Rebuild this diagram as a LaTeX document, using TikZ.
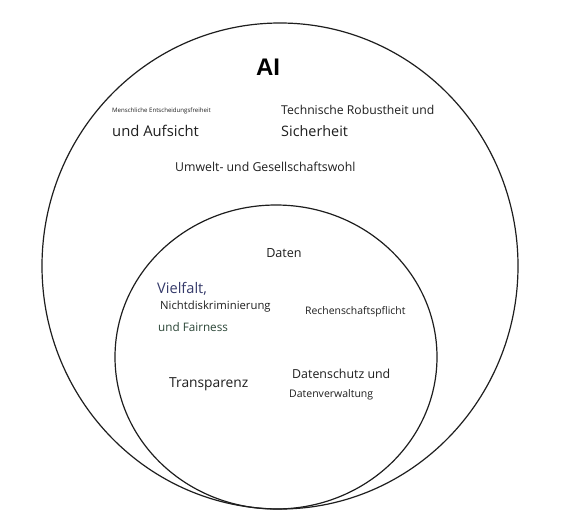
\documentclass[tikz,border=0pt]{standalone}
\usepackage{fontspec}
\setmainfont{Open Sans}
\newfontfamily\arialfont{Liberation Sans}
\definecolor{ink}{HTML}{1E1E1E}
\definecolor{txt}{HTML}{1F1F1F}
\definecolor{navy}{HTML}{353A6A}
\definecolor{dgreen}{HTML}{2B4637}
\begin{document}
\begin{tikzpicture}[x=1pt,y=-1pt,
  ring/.style={draw=ink,line width=1.2pt},
  lbl/.style={anchor=west,inner sep=0pt,text=txt},
  fs/.style={font=\fontsize{#1}{#1}\selectfont}]
\useasboundingbox (0,0) rectangle (578,531);
\fill[white] (0,0) rectangle (578,531);
% outer and inner regions
\draw[ring] (280,266) ellipse [x radius=238, y radius=243];
\draw[ring] (276,357) ellipse [x radius=161, y radius=152];
% title
\node[inner sep=0pt,font=\arialfont\bfseries\fontsize{24}{24}\selectfont] (ai) at (268,67) {AI};
% outer labels
\node[lbl,fs=6.1] (mensch) at (112,111) {Menschliche Entscheidungsfreiheit};
\node[lbl,fs=14.8] (aufsicht) at (112,131) {und Aufsicht};
\node[lbl,fs=12.2] (tech) at (281,110) {Technische Robustheit und};
\node[lbl,fs=14.4] (sicher) at (281,131) {Sicherheit};
\node[lbl,fs=12.3] (umwelt) at (175,167) {Umwelt- und Gesellschaftswohl};
% inner labels
\node[inner sep=0pt,text=txt,fs=12.6] (daten) at (284,253) {Daten};
\node[lbl,fs=14.6,text=navy] (vielfalt) at (157,289) {Vielfalt,};
\node[lbl,fs=11.3] (nicht) at (160,307) {Nichtdiskriminierung};
\node[lbl,fs=11.7,text=dgreen] (fair) at (158,327) {und Fairness};
\node[lbl,fs=10.4] (rechen) at (305,312) {Rechenschaftspflicht};
\node[lbl,fs=13.8] (transp) at (169,384) {Transparenz};
\node[lbl,fs=12.4] (dschutz) at (292,374) {Datenschutz und};
\node[lbl,fs=10.5] (dverw) at (289,395) {Datenverwaltung};
\end{tikzpicture}
\end{document}
